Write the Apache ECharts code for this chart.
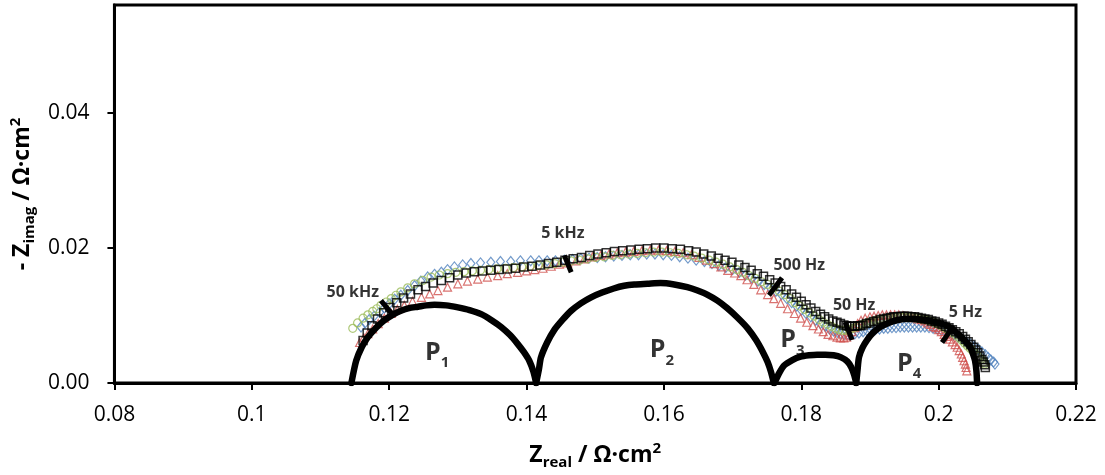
<!DOCTYPE html>
<html>
<head>
<meta charset="utf-8">
<script src="https://cdn.jsdelivr.net/npm/echarts@6/dist/echarts.min.js"></script>
<style>
  html, body { margin: 0; padding: 0; background: #fff; }
  #chart { width: 1105px; height: 475px; }
</style>
</head>
<body>
<div id="chart"></div>
<script>
// Axis ticks
const xTickLabels = ['0.08', '0.1', '0.12', '0.14', '0.16', '0.18', '0.2', '0.22'];
const yTickLabels = ['0.00', '0.02', '0.04'];

// Impedance spectra [Z_real, -Z_imag] in Ω·cm²
const spectrumBlue = [
  [0.1159,0.0083],[0.1165,0.0089],[0.1171,0.0094],[0.1178,0.0099],[0.1186,0.0105],[0.1193,0.0111],
  [0.1200,0.0117],[0.1208,0.0124],[0.1217,0.0130],[0.1227,0.0137],[0.1237,0.0144],[0.1246,0.0151],
  [0.1256,0.0157],[0.1266,0.0161],[0.1276,0.0164],[0.1285,0.0168],[0.1295,0.0172],[0.1307,0.0175],
  [0.1319,0.0177],[0.1333,0.0178],[0.1348,0.0179],[0.1362,0.0180],[0.1377,0.0180],[0.1391,0.0181],
  [0.1406,0.0181],[0.1418,0.0181],[0.1430,0.0181],[0.1442,0.0181],[0.1455,0.0182],[0.1467,0.0183],
  [0.1479,0.0184],[0.1491,0.0185],[0.1503,0.0186],[0.1515,0.0187],[0.1527,0.0188],[0.1539,0.0189],
  [0.1551,0.0190],[0.1563,0.0190],[0.1575,0.0191],[0.1587,0.0191],[0.1599,0.0190],[0.1611,0.0189],
  [0.1623,0.0187],[0.1635,0.0185],[0.1647,0.0182],[0.1659,0.0180],[0.1670,0.0177],[0.1680,0.0174],
  [0.1690,0.0171],[0.1700,0.0168],[0.1710,0.0164],[0.1719,0.0160],[0.1728,0.0156],[0.1737,0.0151],
  [0.1746,0.0146],[0.1755,0.0141],[0.1763,0.0136],[0.1771,0.0131],[0.1779,0.0125],[0.1786,0.0119],
  [0.1793,0.0114],[0.1800,0.0108],[0.1807,0.0103],[0.1814,0.0098],[0.1821,0.0093],[0.1828,0.0088],
  [0.1835,0.0084],[0.1841,0.0080],[0.1847,0.0077],[0.1853,0.0075],[0.1858,0.0073],[0.1863,0.0072],
  [0.1868,0.0072],[0.1873,0.0072],[0.1878,0.0073],[0.1884,0.0074],[0.1890,0.0076],[0.1896,0.0077],
  [0.1902,0.0078],[0.1908,0.0079],[0.1914,0.0080],[0.1920,0.0081],[0.1926,0.0081],[0.1932,0.0082],
  [0.1938,0.0082],[0.1944,0.0083],[0.1950,0.0083],[0.1956,0.0083],[0.1962,0.0083],[0.1968,0.0083],
  [0.1974,0.0083],[0.1980,0.0083],[0.1986,0.0082],[0.1992,0.0081],[0.1998,0.0080],[0.2004,0.0078],
  [0.2010,0.0076],[0.2016,0.0074],[0.2022,0.0071],[0.2028,0.0068],[0.2034,0.0065],[0.2040,0.0061],
  [0.2046,0.0058],[0.2052,0.0054],[0.2058,0.0050],[0.2063,0.0046],[0.2068,0.0042],[0.2072,0.0038],
  [0.2076,0.0034],[0.2080,0.0031],[0.2082,0.0028]
];

const spectrumRed = [
  [0.1157,0.0060],[0.1163,0.0067],[0.1169,0.0073],[0.1176,0.0080],[0.1184,0.0088],[0.1193,0.0096],
  [0.1203,0.0103],[0.1212,0.0109],[0.1222,0.0115],[0.1234,0.0121],[0.1247,0.0127],[0.1259,0.0132],
  [0.1271,0.0137],[0.1285,0.0142],[0.1300,0.0147],[0.1314,0.0151],[0.1329,0.0154],[0.1343,0.0157],
  [0.1358,0.0159],[0.1372,0.0162],[0.1387,0.0164],[0.1400,0.0166],[0.1412,0.0168],[0.1424,0.0170],
  [0.1436,0.0173],[0.1448,0.0176],[0.1460,0.0178],[0.1472,0.0181],[0.1484,0.0184],[0.1496,0.0187],
  [0.1508,0.0189],[0.1520,0.0191],[0.1532,0.0193],[0.1544,0.0194],[0.1556,0.0195],[0.1568,0.0196],
  [0.1580,0.0197],[0.1592,0.0197],[0.1604,0.0196],[0.1616,0.0195],[0.1628,0.0193],[0.1640,0.0190],
  [0.1651,0.0186],[0.1662,0.0182],[0.1673,0.0177],[0.1683,0.0172],[0.1693,0.0167],[0.1703,0.0163],
  [0.1712,0.0159],[0.1721,0.0153],[0.1731,0.0146],[0.1741,0.0138],[0.1751,0.0131],[0.1760,0.0125],
  [0.1770,0.0118],[0.1780,0.0110],[0.1790,0.0103],[0.1799,0.0096],[0.1808,0.0090],[0.1817,0.0085],
  [0.1825,0.0080],[0.1832,0.0076],[0.1839,0.0072],[0.1846,0.0070],[0.1852,0.0068],[0.1857,0.0067],
  [0.1862,0.0067],[0.1866,0.0068],[0.1870,0.0071],[0.1874,0.0076],[0.1878,0.0082],[0.1882,0.0088],
  [0.1887,0.0093],[0.1893,0.0096],[0.1900,0.0098],[0.1906,0.0099],[0.1912,0.0100],[0.1918,0.0101],
  [0.1924,0.0101],[0.1930,0.0101],[0.1936,0.0101],[0.1942,0.0101],[0.1948,0.0100],[0.1954,0.0099],
  [0.1960,0.0098],[0.1965,0.0097],[0.1970,0.0095],[0.1975,0.0094],[0.1980,0.0092],[0.1984,0.0089],
  [0.1988,0.0087],[0.1992,0.0084],[0.1996,0.0082],[0.2000,0.0079],[0.2004,0.0076],[0.2008,0.0072],
  [0.2012,0.0069],[0.2016,0.0065],[0.2020,0.0061],[0.2024,0.0057],[0.2027,0.0053],[0.2030,0.0048],
  [0.2033,0.0043],[0.2035,0.0038],[0.2037,0.0033],[0.2039,0.0028],[0.2040,0.0023],[0.2041,0.0018]
];

const spectrumGreen = [
  [0.1147,0.0081],[0.1154,0.0089],[0.1162,0.0096],[0.1169,0.0101],[0.1176,0.0106],[0.1182,0.0110],
  [0.1188,0.0115],[0.1196,0.0120],[0.1203,0.0125],[0.1210,0.0130],[0.1217,0.0135],[0.1227,0.0141],
  [0.1237,0.0147],[0.1249,0.0152],[0.1261,0.0157],[0.1273,0.0160],[0.1285,0.0162],[0.1297,0.0164],
  [0.1309,0.0165],[0.1321,0.0166],[0.1333,0.0167],[0.1345,0.0168],[0.1357,0.0169],[0.1369,0.0170],
  [0.1381,0.0171],[0.1393,0.0172],[0.1405,0.0173],[0.1417,0.0174],[0.1429,0.0175],[0.1441,0.0177],
  [0.1453,0.0179],[0.1465,0.0181],[0.1477,0.0182],[0.1489,0.0184],[0.1501,0.0186],[0.1513,0.0187],
  [0.1525,0.0189],[0.1537,0.0190],[0.1549,0.0191],[0.1561,0.0192],[0.1573,0.0193],[0.1585,0.0194],
  [0.1597,0.0194],[0.1609,0.0193],[0.1621,0.0192],[0.1633,0.0190],[0.1644,0.0188],[0.1655,0.0185],
  [0.1666,0.0182],[0.1676,0.0179],[0.1686,0.0176],[0.1696,0.0172],[0.1706,0.0168],[0.1715,0.0164],
  [0.1724,0.0159],[0.1733,0.0155],[0.1742,0.0150],[0.1751,0.0146],[0.1760,0.0141],[0.1768,0.0136],
  [0.1776,0.0131],[0.1784,0.0125],[0.1791,0.0119],[0.1798,0.0114],[0.1805,0.0109],[0.1812,0.0104],
  [0.1819,0.0099],[0.1826,0.0094],[0.1832,0.0090],[0.1838,0.0087],[0.1844,0.0084],[0.1850,0.0081],
  [0.1855,0.0079],[0.1860,0.0078],[0.1865,0.0078],[0.1870,0.0079],[0.1875,0.0081],[0.1880,0.0083],
  [0.1885,0.0085],[0.1890,0.0087],[0.1896,0.0089],[0.1902,0.0091],[0.1908,0.0093],[0.1914,0.0094],
  [0.1920,0.0095],[0.1926,0.0096],[0.1932,0.0097],[0.1938,0.0097],[0.1944,0.0098],[0.1950,0.0098],
  [0.1956,0.0097],[0.1962,0.0097],[0.1968,0.0096],[0.1974,0.0095],[0.1980,0.0094],[0.1985,0.0093],
  [0.1990,0.0091],[0.1995,0.0089],[0.2000,0.0087],[0.2005,0.0084],[0.2010,0.0081],[0.2015,0.0078],
  [0.2020,0.0075],[0.2025,0.0071],[0.2030,0.0067],[0.2034,0.0063],[0.2038,0.0059],[0.2042,0.0055],
  [0.2046,0.0051],[0.2050,0.0047],[0.2054,0.0043],[0.2058,0.0039],[0.2062,0.0035],[0.2065,0.0031],
  [0.2067,0.0028]
];

const spectrumBlack = [
  [0.1162,0.0063],[0.1168,0.0074],[0.1175,0.0085],[0.1183,0.0095],[0.1192,0.0104],[0.1201,0.0112],
  [0.1211,0.0119],[0.1221,0.0126],[0.1231,0.0132],[0.1242,0.0138],[0.1253,0.0143],[0.1264,0.0148],
  [0.1276,0.0152],[0.1288,0.0156],[0.1300,0.0160],[0.1312,0.0163],[0.1324,0.0165],[0.1336,0.0166],
  [0.1348,0.0167],[0.1360,0.0168],[0.1372,0.0169],[0.1384,0.0170],[0.1396,0.0172],[0.1408,0.0173],
  [0.1420,0.0175],[0.1432,0.0177],[0.1444,0.0179],[0.1456,0.0182],[0.1468,0.0184],[0.1480,0.0186],
  [0.1492,0.0189],[0.1504,0.0191],[0.1516,0.0193],[0.1528,0.0195],[0.1540,0.0196],[0.1552,0.0197],
  [0.1564,0.0198],[0.1576,0.0199],[0.1588,0.0200],[0.1600,0.0200],[0.1612,0.0199],[0.1624,0.0198],
  [0.1636,0.0196],[0.1647,0.0194],[0.1658,0.0191],[0.1669,0.0188],[0.1679,0.0185],[0.1689,0.0182],
  [0.1699,0.0179],[0.1709,0.0175],[0.1718,0.0171],[0.1727,0.0167],[0.1736,0.0162],[0.1745,0.0158],
  [0.1754,0.0153],[0.1762,0.0148],[0.1770,0.0143],[0.1778,0.0138],[0.1786,0.0132],[0.1793,0.0127],
  [0.1800,0.0121],[0.1807,0.0116],[0.1814,0.0111],[0.1821,0.0106],[0.1828,0.0102],[0.1834,0.0098],
  [0.1840,0.0095],[0.1846,0.0092],[0.1852,0.0090],[0.1857,0.0088],[0.1862,0.0086],[0.1866,0.0085],
  [0.1870,0.0084],[0.1874,0.0084],[0.1878,0.0084],[0.1882,0.0085],[0.1886,0.0085],[0.1890,0.0086],
  [0.1895,0.0088],[0.1900,0.0089],[0.1905,0.0091],[0.1910,0.0092],[0.1915,0.0094],[0.1920,0.0095],
  [0.1925,0.0096],[0.1930,0.0097],[0.1935,0.0098],[0.1940,0.0098],[0.1945,0.0099],[0.1950,0.0099],
  [0.1955,0.0099],[0.1960,0.0098],[0.1965,0.0098],[0.1970,0.0097],[0.1975,0.0096],[0.1980,0.0095],
  [0.1985,0.0094],[0.1990,0.0092],[0.1995,0.0091],[0.2000,0.0089],[0.2005,0.0087],[0.2010,0.0084],
  [0.2015,0.0082],[0.2020,0.0079],[0.2025,0.0076],[0.2030,0.0073],[0.2035,0.0069],[0.2039,0.0065],
  [0.2043,0.0061],[0.2047,0.0057],[0.2051,0.0053],[0.2054,0.0049],[0.2057,0.0045],[0.2060,0.0040],
  [0.2063,0.0035],[0.2065,0.0031],[0.2067,0.0027],[0.2068,0.0023]
];

// Fitted process arcs P1..P4
const arcP1 = [
  [0.1145,0.0000],[0.1152,0.0033],[0.1160,0.0053],[0.1169,0.0068],[0.1181,0.0082],[0.1193,0.0093],
  [0.1205,0.0101],[0.1217,0.0107],[0.1229,0.0111],[0.1242,0.0113],[0.1254,0.0115],[0.1266,0.0116],
  [0.1283,0.0115],[0.1300,0.0112],[0.1317,0.0108],[0.1334,0.0102],[0.1349,0.0093],[0.1363,0.0083],
  [0.1376,0.0071],[0.1387,0.0058],[0.1396,0.0046],[0.1404,0.0033],[0.1410,0.0017],[0.1414,0.0000]
];
const arcP2 = [
  [0.1414,0.0000],[0.1418,0.0020],[0.1421,0.0038],[0.1430,0.0060],[0.1440,0.0078],[0.1452,0.0093],
  [0.1465,0.0107],[0.1479,0.0118],[0.1494,0.0127],[0.1510,0.0134],[0.1527,0.0140],[0.1542,0.0144],
  [0.1557,0.0146],[0.1576,0.0147],[0.1595,0.0148],[0.1615,0.0146],[0.1634,0.0142],[0.1649,0.0137],
  [0.1663,0.0131],[0.1678,0.0122],[0.1692,0.0111],[0.1707,0.0097],[0.1722,0.0081],[0.1734,0.0064],
  [0.1744,0.0046],[0.1751,0.0031],[0.1756,0.0016],[0.1760,0.0000]
];
const arcP3 = [
  [0.1761,0.0000],[0.1768,0.0015],[0.1775,0.0026],[0.1787,0.0034],[0.1799,0.0039],[0.1811,0.0041],
  [0.1823,0.0042],[0.1835,0.0042],[0.1847,0.0041],[0.1858,0.0038],[0.1867,0.0032],[0.1873,0.0023],
  [0.1877,0.0012],[0.1880,0.0000]
];
const arcP4 = [
  [0.1880,0.0000],[0.1882,0.0020],[0.1884,0.0038],[0.1889,0.0052],[0.1896,0.0064],[0.1905,0.0075],
  [0.1915,0.0083],[0.1927,0.0089],[0.1939,0.0093],[0.1952,0.0095],[0.1964,0.0095],[0.1976,0.0094],
  [0.1988,0.0092],[0.2000,0.0089],[0.2012,0.0085],[0.2022,0.0078],[0.2031,0.0070],[0.2039,0.0062],
  [0.2046,0.0053],[0.2050,0.0043],[0.2053,0.0033],[0.2055,0.0018],[0.2056,0.0000]
];

// Frequency markers: tick segment ends and label anchor
const freqNames = ['50 kHz', '5 kHz', '500 Hz', '50 Hz', '5 Hz'];
const freqTicks = [
  [[0.1188,0.0122],[0.1207,0.0099]],
  [[0.1455,0.0189],[0.1465,0.0164]],
  [[0.1772,0.0156],[0.1753,0.0130]],
  [[0.1864,0.0090],[0.1874,0.0064]],
  [[0.2022,0.0085],[0.2005,0.0060]]
];
const freqAnchors = [[0.1147,0.0134],[0.1453,0.0221],[0.1797,0.0174],[0.1877,0.0115],[0.2039,0.0104]];

// Arc names and anchors
const arcNames = ['1', '2', '3', '4'];
const arcAnchors = [[0.1270,0.0045],[0.1597,0.0049],[0.1787,0.0064],[0.1957,0.0029]];

const FONT = '"Open Sans", "Liberation Sans", sans-serif';
const xMin = 0.08, xStep = 0.02;

function markerSeries(name, data, symbol, size, color, bw, z) {
  return {
    name, type: 'scatter', data, symbol, symbolSize: size, z,
    itemStyle: { color: 'rgba(0,0,0,0)', borderColor: color, borderWidth: bw },
    silent: true
  };
}
function arcSeries(name, data) {
  return {
    name, type: 'line', data, symbol: 'none', smooth: 0.25, z: 6,
    lineStyle: { color: '#000', width: 6.5, cap: 'round', join: 'round' }, silent: true
  };
}
const titleRich = {
  b: { fontSize: 23, fontWeight: 'bold', color: '#000', fontFamily: FONT, lineHeight: 29 },
  sub: { fontSize: 15, fontWeight: 'bold', color: '#000', fontFamily: FONT, lineHeight: 14, verticalAlign: 'bottom' },
  sup: { fontSize: 15, fontWeight: 'bold', color: '#000', fontFamily: FONT, lineHeight: 20, verticalAlign: 'top' }
};

const chart = echarts.init(document.getElementById('chart'), null, { renderer: 'canvas' });
chart.setOption({
  animation: false,
  backgroundColor: '#fff',
  textStyle: { fontFamily: FONT },
  grid: { left: 113, right: 29, top: 5, bottom: 92, show: true, borderColor: '#000', borderWidth: 3 },
  xAxis: {
    type: 'value', min: 0.08, max: 0.22, interval: xStep,
    axisLine: { onZero: false, lineStyle: { color: '#000', width: 3 } },
    axisTick: { show: true, inside: false, length: 7, lineStyle: { color: '#000', width: 2 } },
    splitLine: { show: false },
    axisLabel: {
      margin: 22, color: '#000', fontSize: 21, fontFamily: FONT,
      formatter: v => xTickLabels[Math.round((v - xMin) / xStep)] || ''
    },
    name: '{b|Z}{sub|real}{b| / Ω·cm}{sup|2}',
    nameLocation: 'middle', nameGap: 58,
    nameTextStyle: { rich: titleRich }
  },
  yAxis: {
    type: 'value', min: 0, max: 0.056,
    axisLine: { onZero: false, lineStyle: { color: '#000', width: 3 } },
    axisTick: { show: true, inside: false, length: 7, lineStyle: { color: '#000', width: 2 }, customValues: [0, 0.02, 0.04] },
    splitLine: { show: false },
    axisLabel: {
      margin: 25, color: '#000', fontSize: 21, fontFamily: FONT,
      customValues: [0, 0.02, 0.04],
      formatter: v => yTickLabels[Math.round(v / 0.02)] || ''
    },
    name: '{b|- Z}{sub|imag}{b| / Ω·cm}{sup|2}',
    nameLocation: 'middle', nameGap: 76, nameRotate: 90,
    nameTextStyle: { rich: titleRich }
  },
  series: [
    markerSeries('blue', spectrumBlue, 'diamond', [8, 10], '#4F81BD', 1.2, 3),
    markerSeries('red', spectrumRed, 'triangle', 8, '#D0504D', 1.2, 3),
    markerSeries('green', spectrumGreen, 'circle', 8, '#9BBB59', 1.2, 3),
    markerSeries('black', spectrumBlack, 'rect', 8, '#000', 1.5, 4),
    arcSeries('P1', arcP1),
    arcSeries('P2', arcP2),
    arcSeries('P3', arcP3),
    arcSeries('P4', arcP4),
    {
      name: 'freqTicks', type: 'lines', coordinateSystem: 'cartesian2d', z: 8, silent: true,
      lineStyle: { color: '#000', width: 5, opacity: 1, curveness: 0 },
      data: freqTicks.map(c => ({ coords: c }))
    },
    {
      name: 'freqLabels', type: 'scatter', symbolSize: 0, z: 9, silent: true,
      data: freqAnchors.map((p, i) => ({ value: p, name: freqNames[i] })),
      label: {
        show: true, position: 'inside', formatter: p => p.name,
        color: '#000', fontSize: 16, fontWeight: 'bold', fontFamily: FONT
      }
    },
    {
      name: 'arcLabels', type: 'scatter', symbolSize: 0, z: 9, silent: true,
      data: arcAnchors.map((p, i) => ({ value: p, name: arcNames[i] })),
      label: {
        show: true, position: 'inside', formatter: p => '{p|P}{s|' + p.name + '}',
        rich: {
          p: { fontSize: 25, fontWeight: 'bold', color: '#000', fontFamily: FONT, lineHeight: 36 },
          s: { fontSize: 15, fontWeight: 'bold', color: '#000', fontFamily: FONT, lineHeight: 15, verticalAlign: 'bottom' }
        }
      }
    }
  ]
});
</script>
</body>
</html>
